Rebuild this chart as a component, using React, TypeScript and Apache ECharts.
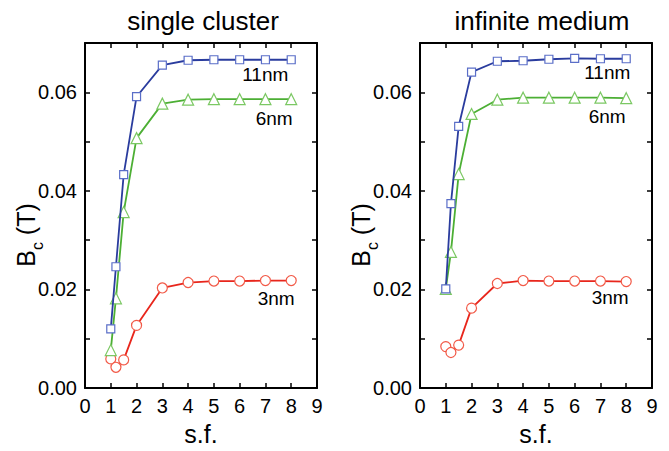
import React, { useEffect, useRef } from "react";
import * as echarts from "echarts";

const SF = [1, 1.2, 1.5, 2, 3, 4, 5, 6, 7, 8];
const X_TICKS = [0, 1, 2, 3, 4, 5, 6, 7, 8, 9];
const Y_TICKS = [0, 0.02, 0.04, 0.06];

const PANEL_TITLES = ["single cluster", "infinite medium"];
const SIZE_LABELS = ["11nm", "6nm", "3nm"];

const SINGLE_11 = [0.012, 0.0246, 0.0433, 0.0591, 0.0655, 0.0665, 0.0666, 0.0666, 0.0666, 0.0666];
const SINGLE_6 = [0.0077, 0.0182, 0.0357, 0.0507, 0.0577, 0.0585, 0.0586, 0.0586, 0.0586, 0.0586];
const SINGLE_3 = [0.0059, 0.0042, 0.0057, 0.0127, 0.0203, 0.0214, 0.0217, 0.0217, 0.0218, 0.0218];

const INF_11 = [0.0201, 0.0374, 0.0531, 0.0641, 0.0663, 0.0664, 0.0667, 0.0669, 0.0668, 0.0668];
const INF_6 = [0.0201, 0.0276, 0.0434, 0.0556, 0.0585, 0.0589, 0.0589, 0.0589, 0.0589, 0.0588];
const INF_3 = [0.0084, 0.0072, 0.0087, 0.0162, 0.0212, 0.0218, 0.0217, 0.0217, 0.0217, 0.0216];

const FONT = "'Liberation Sans', Arial, sans-serif";

const STYLES = [
  { line: "#2a3c9e", marker: "#5a6ec8", symbol: "rect", size: 8 },
  { line: "#4caf34", marker: "#7bc863", symbol: "triangle", size: 11 },
  { line: "#e8261c", marker: "#f25a48", symbol: "circle", size: 10 },
];

export default function App() {
  const ref = useRef<HTMLDivElement>(null);
  useEffect(() => {
    if (!ref.current) return;
    const chart = echarts.init(ref.current, null, { renderer: "svg" });
    const grids = [
      { left: 85, top: 43, width: 232, height: 349 },
      { left: 420, top: 43, width: 232, height: 349 },
    ];
    const panels = [
      [SINGLE_11, SINGLE_6, SINGLE_3],
      [INF_11, INF_6, INF_3],
    ];
    const labelOffsets = [
      [[-26, -4], [-17, -1], [-15, -2]],
      [[-19, -5], [-19, -2], [-16, -4]],
    ];
    const axisLine = { show: true, onZero: false, lineStyle: { color: "#000", width: 2 } };
    const tick = { show: true, inside: true, length: 5, lineStyle: { color: "#000", width: 1.5 } };
    const xAxes: any[] = [];
    const yAxes: any[] = [];
    grids.forEach((_, gi) => {
      const xBase = {
        type: "value",
        gridIndex: gi,
        min: X_TICKS[0],
        max: X_TICKS[X_TICKS.length - 1],
        interval: 1,
        splitLine: { show: false },
        axisLine,
        axisTick: tick,
      };
      xAxes.push({
        ...xBase,
        position: "bottom",
        name: "s.f.",
        nameLocation: "middle",
        nameGap: 33,
        nameTextStyle: { fontSize: 25, color: "#000", fontFamily: FONT },
        axisLabel: { fontSize: 20, color: "#000", fontFamily: FONT, margin: 8 },
      });
      xAxes.push({ ...xBase, position: "top", axisLabel: { show: false } });
      const yBase = {
        type: "value",
        gridIndex: gi,
        min: 0,
        max: 0.07,
        interval: 0.01,
        splitLine: { show: false },
        axisLine,
        axisTick: tick,
      };
      yAxes.push({
        ...yBase,
        position: "left",
        axisLabel: {
          fontSize: 20,
          color: "#000",
          fontFamily: FONT,
          margin: 8,
          formatter: (v: number) => {
            const hit = Y_TICKS.find((t) => Math.abs(t - v) < 1e-9);
            return hit !== undefined ? hit.toFixed(2) : "";
          },
        },
      });
      yAxes.push({ ...yBase, position: "right", axisLabel: { show: false } });
    });

    const series: any[] = [];
    panels.forEach((sets, gi) => {
      [2, 1, 0].forEach((si) => {
        const st = STYLES[si];
        const vals = sets[si];
        series.push({
          type: "line",
          xAxisIndex: gi * 2,
          yAxisIndex: gi * 2,
          z: 3 + (2 - si),
          symbol: st.symbol,
          symbolSize: st.size,
          showAllSymbol: true,
          lineStyle: { color: st.line, width: 1.8 },
          itemStyle: { color: "#fff", borderColor: st.marker, borderWidth: 1.2 },
          data: SF.map((x, i) => {
            const item: any = { value: [x, vals[i]] };
            if (i === SF.length - 1) {
              item.label = {
                show: true,
                position: "bottom",
                offset: labelOffsets[gi][si],
                formatter: SIZE_LABELS[si],
                color: "#000",
                fontSize: 19,
                fontFamily: FONT,
              };
            }
            return item;
          }),
        });
      });
    });

    const yName = (x: number) => ({
      type: "text",
      x,
      y: 235,
      rotation: Math.PI / 2,
      style: {
        text: "{b|B}{s|c}{b| (T)}",
        align: "center",
        verticalAlign: "middle",
        fill: "#000",
        rich: {
          b: { fontSize: 25, fontFamily: FONT, fill: "#000" },
          s: { fontSize: 16, fontFamily: FONT, fill: "#000", padding: [22, 0, 0, 0] },
        },
      },
    });

    chart.setOption({
      animation: false,
      backgroundColor: "#fff",
      title: [
        {
          text: PANEL_TITLES[0],
          left: 198,
          top: 3,
          textAlign: "center",
          textStyle: { fontSize: 26, fontWeight: "normal", color: "#000", fontFamily: FONT },
        },
        {
          text: PANEL_TITLES[1],
          left: 537,
          top: 3,
          textAlign: "center",
          textStyle: { fontSize: 26, fontWeight: "normal", color: "#000", fontFamily: FONT },
        },
      ],
      grid: grids,
      xAxis: xAxes,
      yAxis: yAxes,
      series,
      graphic: [yName(26), yName(361)],
    });
    return () => chart.dispose();
  }, []);
  return (
    <div
      ref={ref}
      style={{ position: "absolute", left: 0, top: 0, width: 669, height: 451 }}
    />
  );
}
